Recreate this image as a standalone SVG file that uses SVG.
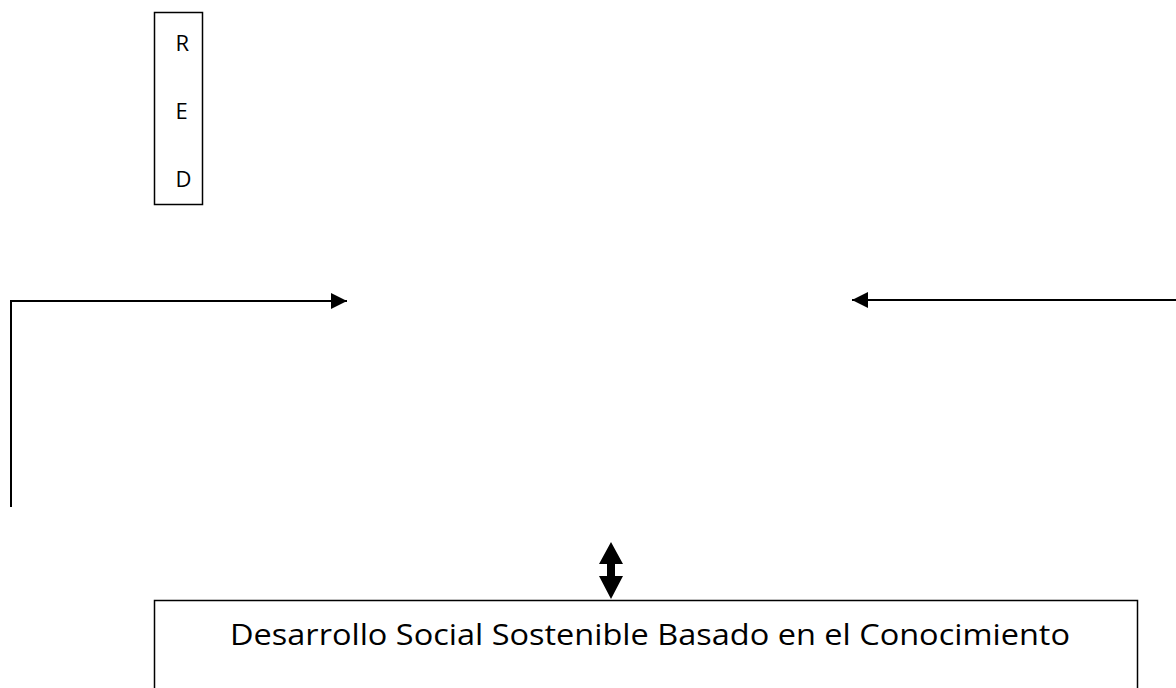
<svg xmlns="http://www.w3.org/2000/svg" width="1176" height="688" viewBox="0 0 1176 688">
<style>
.box{fill:#fff;stroke:#000;stroke-width:1.5}
.ln{fill:none;stroke:#000;stroke-width:2}
.t{font-family:"Open Sans","Noto Sans",sans-serif;fill:#000}
</style>
<defs>
<marker id="ah" viewBox="0 0 16 16" refX="16" refY="8" markerWidth="16" markerHeight="16" markerUnits="userSpaceOnUse" orient="auto">
<path d="M0,0 L16,8 L0,16 Z" fill="#000"/>
</marker>
</defs>
<rect width="1176" height="688" fill="#fff"/>
<g id="red">
<rect class="box" x="154.5" y="12.5" width="48" height="192"/>
<text class="t" x="175.5" y="51" font-size="22">R</text>
<text class="t" x="175.5" y="119" font-size="22">E</text>
<text class="t" x="175.5" y="187" font-size="22">D</text>
</g>
<g id="desarrollo">
<rect class="box" x="154.5" y="600.5" width="983" height="100"/>
<text class="t" x="650" y="645" font-size="30" text-anchor="middle" textLength="840" lengthAdjust="spacingAndGlyphs">Desarrollo Social Sostenible Basado en el Conocimiento</text>
</g>
<g id="connectors">
<path class="ln" d="M11,507 L11,301 L347,301" marker-end="url(#ah)"/>
<path class="ln" d="M1176,300 L852,300" marker-end="url(#ah)"/>
<polygon points="611,542 623,564 615,564 615,576 623,576 611,599 599,576 607,576 607,564 599,564" fill="#000"/>
</g>
</svg>
